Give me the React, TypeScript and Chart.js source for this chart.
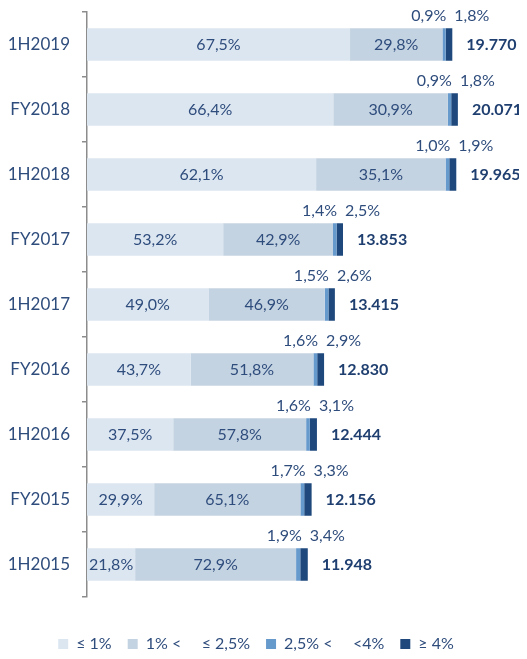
import React, { useEffect, useRef } from "react";
import { Chart, registerables } from "chart.js";

Chart.register(...registerables);

const categories = ["1H2019", "FY2018", "1H2018", "FY2017", "1H2017", "FY2016", "1H2016", "FY2015", "1H2015"];
const totals = [19770, 20071, 19965, 13853, 13415, 12830, 12444, 12156, 11948];
const totalLabels = ["19.770", "20.071", "19.965", "13.853", "13.415", "12.830", "12.444", "12.156", "11.948"];

// percentage labels shown on the chart
const pctLow = ["67,5%", "66,4%", "62,1%", "53,2%", "49,0%", "43,7%", "37,5%", "29,9%", "21,8%"];
const pctMid = ["29,8%", "30,9%", "35,1%", "42,9%", "46,9%", "51,8%", "57,8%", "65,1%", "72,9%"];
const pctHigh = ["0,9%", "0,9%", "1,0%", "1,4%", "1,5%", "1,6%", "1,6%", "1,7%", "1,9%"];
const pctTop = ["1,8%", "1,8%", "1,9%", "2,5%", "2,6%", "2,9%", "3,1%", "3,3%", "3,4%"];

// bar shares (%) as drawn in the picture
const shareLow = [72.0, 66.4, 62.1, 53.2, 49.0, 43.7, 37.5, 29.9, 21.8];
const shareMid = [25.3, 30.9, 35.1, 42.9, 46.9, 51.8, 57.8, 65.1, 72.9];
const shareHigh = [0.9, 0.9, 1.0, 1.4, 1.5, 1.6, 1.6, 1.7, 1.9];
const shareTop = [1.8, 1.8, 1.9, 2.5, 2.6, 2.9, 3.1, 3.3, 3.4];

const legendLabels = ["≤ 1%", "1% <     ≤ 2,5%", "2,5% <     <4%", "≥ 4%"];
const colors = ["#dce6f1", "#c4d3e2", "#6699cc", "#1f497d"];

const FONT = "Lato, 'Liberation Sans', sans-serif";
const TEXT = "#2e4c7c";

const toValues = (share: number[]) => share.map((s, i) => (s / 100) * totals[i]);

const labelPlugin = {
  id: "segLabels",
  afterDatasetsDraw(chart: any) {
    const ctx = chart.ctx;
    ctx.save();
    ctx.textBaseline = "middle";
    const metas = [0, 1, 2, 3].map((d) => chart.getDatasetMeta(d));
    categories.forEach((_, i) => {
      const e0 = metas[0].data[i];
      const e1 = metas[1].data[i];
      const e3 = metas[3].data[i];
      const y = e0.y;
      const end = e3.x;
      ctx.font = `16px ${FONT}`;
      ctx.fillStyle = TEXT;
      ctx.textAlign = "center";
      ctx.fillText(pctLow[i], (e0.x + e0.base) / 2, y);
      ctx.fillText(pctMid[i], (e1.x + e1.base) / 2, y);
      ctx.textAlign = "right";
      ctx.fillText(pctHigh[i], end - 6, y - 29);
      ctx.textAlign = "left";
      ctx.fillText(pctTop[i], end + 2, y - 29);
      ctx.font = `bold 16px ${FONT}`;
      ctx.fillStyle = "#1f3f70";
      ctx.fillText(totalLabels[i], end + 14, y);
    });
    ctx.restore();
  },
};

export default function App() {
  const ref = useRef<HTMLCanvasElement>(null);
  useEffect(() => {
    if (!ref.current) return;
    const data = {
      labels: categories,
      datasets: [shareLow, shareMid, shareHigh, shareTop].map((s, k) => ({
        label: legendLabels[k],
        data: toValues(s),
        backgroundColor: colors[k],
        borderWidth: 0,
        categoryPercentage: 1,
        barPercentage: 0.5,
      })),
    };
    const chart = new Chart(ref.current, {
      type: "bar",
      data,
      plugins: [labelPlugin],
      options: {
        indexAxis: "y",
        animation: false,
        responsive: false,
        maintainAspectRatio: false,
        layout: { padding: { top: 12, right: 15, left: 0, bottom: -3 } },
        scales: {
          x: {
            stacked: true,
            min: 0,
            max: 23000,
            display: true,
            ticks: { display: false },
            grid: { display: false, drawTicks: false },
            border: { display: false },
            afterFit: (s: any) => {
              s.height = 23;
              s.paddingLeft = 0;
              s.paddingRight = 0;
            },
          },
          y: {
            stacked: true,
            afterFit: (s: any) => {
              s.width = 87;
              s.paddingTop = 0;
              s.paddingBottom = 0;
            },
            border: { display: true, color: "#8c8c8c", width: 1.5 },
            grid: { offset: true, drawOnChartArea: false, drawTicks: true, tickLength: 5, color: "#8c8c8c", lineWidth: 1.5 },
            ticks: { color: TEXT, font: { family: FONT, size: 17 }, padding: 12 },
          },
        },
        plugins: {
          tooltip: { enabled: false },
          legend: {
            position: "bottom",
            labels: {
              color: TEXT,
              font: { family: FONT, size: 16 },
              boxWidth: 10,
              boxHeight: 10,
              padding: 16,
            },
          },
        },
      } as any,
    });
    return () => chart.destroy();
  }, []);
  return (
    <div style={{ margin: -8, width: 527, height: 659 }}>
      <canvas ref={ref} width={527} height={659} style={{ display: "block" }} />
    </div>
  );
}
